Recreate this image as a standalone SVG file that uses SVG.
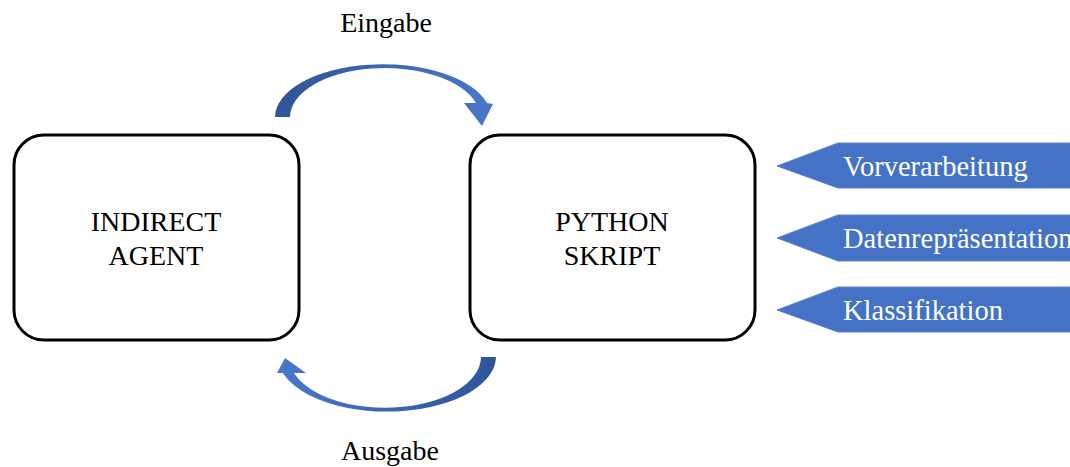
<svg xmlns="http://www.w3.org/2000/svg" width="1070" height="467" viewBox="0 0 1070 467">
<style>
.box{fill:#fff;stroke:#000;stroke-width:3}
.t{font-family:"Liberation Serif","Times New Roman",serif;font-size:28px;fill:#000}
.w{font-family:"Liberation Serif","Times New Roman",serif;font-size:28.5px;fill:#fff}
.tag{fill:#4472C4;stroke:#5B83CC;stroke-width:1}
</style>
<defs>
<linearGradient id="gTop" x1="275" y1="0" x2="493" y2="0" gradientUnits="userSpaceOnUse">
<stop offset="0" stop-color="#2F5597"/><stop offset="1" stop-color="#4A78CA"/>
</linearGradient>
<linearGradient id="gBot" x1="496" y1="0" x2="277" y2="0" gradientUnits="userSpaceOnUse">
<stop offset="0" stop-color="#2F5597"/><stop offset="1" stop-color="#4A78CA"/>
</linearGradient>
</defs>
<g id="indirect-agent">
<rect class="box" x="14" y="135" width="285" height="205" rx="30" ry="30"/>
<text class="t" x="156" y="231" text-anchor="middle">INDIRECT</text>
<text class="t" x="156" y="265" text-anchor="middle">AGENT</text>
</g>
<g id="python-skript">
<rect class="box" x="470" y="135" width="285" height="205" rx="30" ry="30"/>
<text class="t" x="612" y="231" text-anchor="middle">PYTHON</text>
<text class="t" x="612" y="265" text-anchor="middle">SKRIPT</text>
</g>
<g id="connectors">
<path d="M275,117 A108,53 0 0 1 487,103 L493,104 L482,126 L464,103 L476,103 A95,49 0 0 0 290,117 Z" fill="url(#gTop)"/>
<path d="M496,357 A109,55 0 0 1 283,373 L277,373 L285,358 L306,373 L294,373 A96,51 0 0 0 481,357 Z" fill="url(#gBot)"/>
<text class="t" x="386" y="32" text-anchor="middle">Eingabe</text>
<text class="t" x="390" y="460" text-anchor="middle">Ausgabe</text>
</g>
<g id="vorverarbeitung">
<polygon class="tag" points="777,166 838,143 1071,143 1071,188 838,188"/>
<text class="w" x="843" y="176">Vorverarbeitung</text>
</g>
<g id="datenrepraesentation">
<polygon class="tag" points="777,238 838,215 1071,215 1071,261 838,261"/>
<text class="w" x="843" y="248">Datenrepräsentation</text>
</g>
<g id="klassifikation">
<polygon class="tag" points="777,310 838,287 1071,287 1071,332 838,332"/>
<text class="w" x="843" y="320">Klassifikation</text>
</g>
</svg>
